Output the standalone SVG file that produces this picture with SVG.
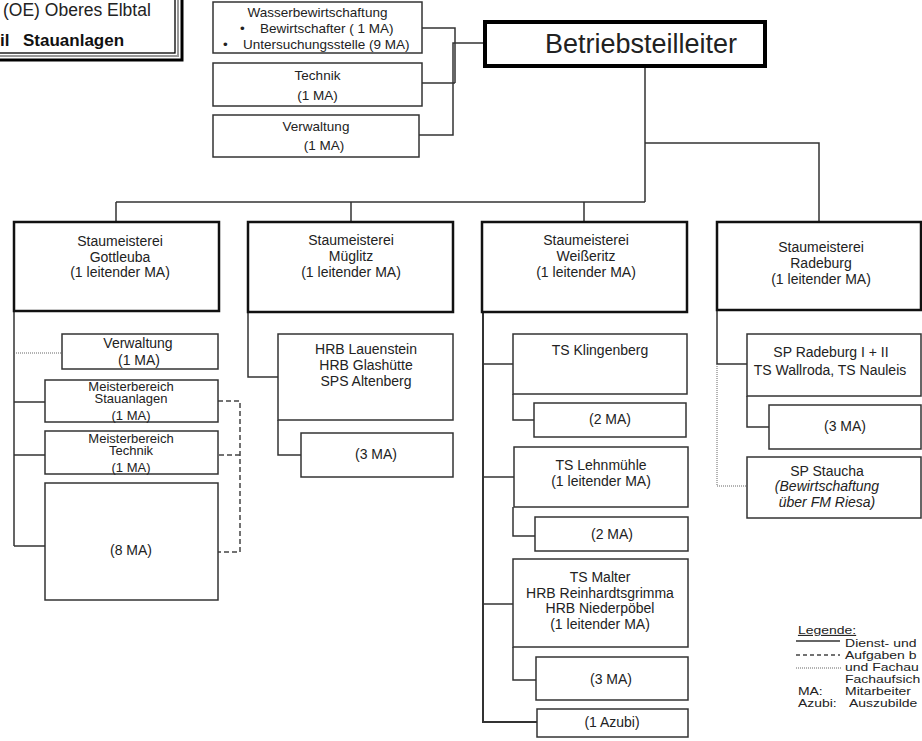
<svg xmlns="http://www.w3.org/2000/svg" width="922" height="741" viewBox="0 0 922 741">
<style>
.box{fill:#fff;stroke:#333;stroke-width:1.5}
.sm{fill:#fff;stroke:#111;stroke-width:2.5}
.t{font-family:"Liberation Sans",Arial,sans-serif;font-size:14px;fill:#222;text-anchor:middle}
.u{font-family:"Liberation Sans",Arial,sans-serif;font-size:13.5px;fill:#222;text-anchor:middle}
.s{font-family:"Liberation Sans",Arial,sans-serif;font-size:13.5px;fill:#222}
.m{font-family:"Liberation Sans",Arial,sans-serif;font-size:13px;fill:#222;text-anchor:middle}
.lg{font-family:"Liberation Sans",Arial,sans-serif;font-size:11px;fill:#222}
.ln{stroke:#333;stroke-width:1.5;fill:none}
.dash{stroke:#444;stroke-width:1.5;stroke-dasharray:5 3;fill:none}
.dot{stroke:#666;stroke-width:1;stroke-dasharray:1 1;fill:none}
</style>
<rect width="922" height="741" fill="#fff"/>

<g id="title">
<rect x="-10" y="-10" width="192" height="70" fill="#fff" stroke="#000" stroke-width="3"/>
<rect x="-10" y="-10" width="188" height="66" fill="none" stroke="#999" stroke-width="2"/>
<rect x="-10" y="-10" width="185" height="63" fill="none" stroke="#000" stroke-width="1.3"/>
<text x="3" y="16" font-family="Liberation Sans,Arial,sans-serif" font-size="17.5" fill="#222">(OE) Oberes Elbtal</text>
<text x="0" y="46" font-family="Liberation Sans,Arial,sans-serif" font-size="17" font-weight="bold" fill="#111">il<tspan x="23">Stauanlagen</tspan></text>
</g>

<g id="connectors">
<path class="ln" d="M422 28H455V83M422 83H455M419 135H453V43H485"/>
<path class="ln" d="M645 66V202M645 143H819V222M116 202H645M116 202V222M351 202V222M584 202V222"/>
<path class="ln" d="M14 311V546M14 402H45M14 455H45M14 546H45"/>
<path class="dot" d="M14 353H62"/>
<path class="dash" d="M218 401H240V552H218M240 455H218"/>
<path class="ln" d="M248 312V377H278M278 420V455H301"/>
<path class="ln" d="M483 312V722H537" style="stroke-width:2"/>
<path class="ln" d="M483 364H513M513 394V420H534M483 477H514M513 507V536H535M483 604H513M513 647V680H536"/>
<path class="ln" d="M717 310V364H747M747 396V427H769"/>
<path class="dot" d="M717 364V486H747"/>
</g>

<g id="wasser">
<rect class="box" x="213" y="2" width="209" height="51"/>
<text class="u" x="317.5" y="17">Wasserbewirtschaftung</text>
<text class="s" x="240" y="33">•</text><text class="s" x="260" y="33">Bewirtschafter ( 1 MA)</text>
<text class="s" x="223" y="49">•</text><text class="s" x="243" y="49">Untersuchungsstelle (9 MA)</text>
</g>
<g id="technik">
<rect class="box" x="213" y="63" width="209" height="43"/>
<text class="u" x="317.5" y="80">Technik</text>
<text class="u" x="317.5" y="100">(1 MA)</text>
</g>
<g id="verwaltung-top">
<rect class="box" x="213" y="115" width="206" height="42"/>
<text class="u" x="316" y="131">Verwaltung</text>
<text class="u" x="324" y="150">(1 MA)</text>
</g>
<g id="leiter">
<rect x="485" y="22" width="280" height="44" fill="#fff" stroke="#000" stroke-width="4"/>
<text class="t" x="641" y="53" style="font-size:27px">Betriebsteilleiter</text>
</g>

<g id="gottleuba">
<rect class="sm" x="14" y="222" width="205" height="89"/>
<text class="t" x="120" y="246">Staumeisterei</text>
<text class="t" x="120" y="262">Gottleuba</text>
<text class="t" x="120" y="277">(1 leitender MA)</text>
</g>
<g id="g-verwaltung">
<rect class="box" x="62" y="334" width="156" height="35"/>
<text class="t" x="138" y="348">Verwaltung</text>
<text class="t" x="139" y="365">(1 MA)</text>
</g>
<g id="g-stauanlagen">
<rect class="box" x="45" y="380" width="173" height="42"/>
<text class="m" x="131" y="391">Meisterbereich</text>
<text class="m" x="131" y="403">Stauanlagen</text>
<text class="m" x="131" y="420">(1 MA)</text>
</g>
<g id="g-technik">
<rect class="box" x="45" y="431" width="173" height="43"/>
<text class="m" x="131" y="443">Meisterbereich</text>
<text class="m" x="131" y="455">Technik</text>
<text class="m" x="131" y="472">(1 MA)</text>
</g>
<g id="g-8ma">
<rect class="box" x="45" y="483" width="173" height="117"/>
<text class="t" x="131" y="555">(8 MA)</text>
</g>

<g id="mueglitz">
<rect class="sm" x="248" y="222" width="205" height="90"/>
<text class="t" x="351" y="245">Staumeisterei</text>
<text class="t" x="351" y="261">Müglitz</text>
<text class="t" x="351" y="277">(1 leitender MA)</text>
</g>
<g id="m-hrb">
<rect class="box" x="278" y="334" width="175" height="86"/>
<text class="t" x="366" y="354">HRB Lauenstein</text>
<text class="t" x="366" y="370">HRB Glashütte</text>
<text class="t" x="366" y="386">SPS Altenberg</text>
</g>
<g id="m-3ma">
<rect class="box" x="301" y="433" width="152" height="44"/>
<text class="t" x="376" y="459">(3 MA)</text>
</g>

<g id="weisseritz">
<rect class="sm" x="482" y="222" width="205" height="90"/>
<text class="t" x="586" y="245">Staumeisterei</text>
<text class="t" x="586" y="261">Weißeritz</text>
<text class="t" x="586" y="277">(1 leitender MA)</text>
</g>
<g id="w-klingenberg">
<rect class="box" x="513" y="334" width="174" height="60"/>
<text class="t" x="600" y="355">TS Klingenberg</text>
</g>
<g id="w-2ma-a">
<rect class="box" x="534" y="403" width="152" height="34"/>
<text class="t" x="610" y="424">(2 MA)</text>
</g>
<g id="w-lehnmuehle">
<rect class="box" x="514" y="447" width="174" height="60"/>
<text class="t" x="601" y="470">TS Lehnmühle</text>
<text class="t" x="601" y="486">(1 leitender MA)</text>
</g>
<g id="w-2ma-b">
<rect class="box" x="535" y="517" width="153" height="34"/>
<text class="t" x="612" y="539">(2 MA)</text>
</g>
<g id="w-malter">
<rect class="box" x="513" y="559" width="175" height="88"/>
<text class="t" x="600" y="582">TS Malter</text>
<text class="t" x="600" y="598">HRB Reinhardtsgrimma</text>
<text class="t" x="600" y="613">HRB Niederpöbel</text>
<text class="t" x="600" y="629">(1 leitender MA)</text>
</g>
<g id="w-3ma">
<rect class="box" x="536" y="657" width="152" height="43"/>
<text class="t" x="611" y="684">(3 MA)</text>
</g>
<g id="w-azubi">
<rect class="box" x="537" y="709" width="151" height="28"/>
<text class="t" x="612" y="727">(1 Azubi)</text>
</g>

<g id="radeburg">
<rect class="sm" x="717" y="222" width="204" height="88"/>
<text class="t" x="821" y="252">Staumeisterei</text>
<text class="t" x="821" y="268">Radeburg</text>
<text class="t" x="821" y="284">(1 leitender MA)</text>
</g>
<g id="r-sp">
<rect class="box" x="747" y="334" width="174" height="62"/>
<text class="t" x="831" y="357">SP Radeburg I + II</text>
<text class="t" x="830" y="375">TS Wallroda, TS Nauleis</text>
</g>
<g id="r-3ma">
<rect class="box" x="769" y="405" width="152" height="44"/>
<text class="t" x="845" y="431">(3 MA)</text>
</g>
<g id="r-staucha">
<rect class="box" x="747" y="457" width="174" height="61"/>
<text class="t" x="827" y="476">SP Staucha</text>
<text class="t" x="827" y="491" font-style="italic">(Bewirtschaftung</text>
<text class="t" x="827" y="507" font-style="italic">über FM Riesa)</text>
</g>

<g id="legend">
<path class="ln" d="M796 641H840"/>
<path class="dash" d="M796 655H840" style="stroke-width:1.3;stroke-dasharray:4 3"/>
<path class="dot" d="M796 668H841"/>
<g transform="scale(1.27 1)">
<text class="lg" x="628.3" y="634" text-decoration="underline">Legende:</text>
<text class="lg" x="665.4" y="647">Dienst- und</text>
<text class="lg" x="665.4" y="659">Aufgaben b</text>
<text class="lg" x="665.4" y="671">und Fachau</text>
<text class="lg" x="665.4" y="683">Fachaufsich</text>
<text class="lg" x="628.3" y="695">MA:</text>
<text class="lg" x="665.4" y="695">Mitarbeiter</text>
<text class="lg" x="628.3" y="707">Azubi:</text>
<text class="lg" x="668.5" y="707">Auszubilde</text>
</g>
</g>
</svg>
